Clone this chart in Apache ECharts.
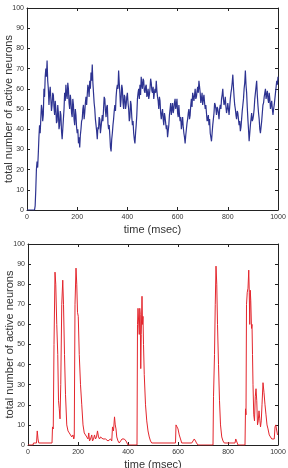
<!DOCTYPE html>
<html>
<head>
<meta charset="utf-8">
<style>html,body{margin:0;padding:0;background:#fff;}#c{width:288px;height:468px;}</style>
<script src="https://cdn.jsdelivr.net/npm/echarts@6/dist/echarts.min.js"></script>
</head>
<body>
<div id="c"></div>
<script>
// Top panel: sampled every 2.5 ms
var topStep = 2.5;
var topValues = [
0,0,0,0,0,0,0,0,0,0,0,0,0,2,10,20,24,21,28,36,
42,38,45,52,50,44,47,60,56,66,70,66,74,64,60,52,58,61,55,49,
52,58,57,51,47,54,50,43,44,52,48,40,42,49,47,39,35,40,45,50,
58,54,62,57,55,63,60,53,50,57,54,48,46,55,52,45,42,50,47,41,
38,40,33,36,31,37,40,44,45,50,52,45,48,53,56,52,57,62,60,56,
64,60,68,64,72,63,58,53,50,45,42,39,35,41,40,46,45,38,41,44,
47,44,50,56,55,49,46,51,52,43,40,42,37,31,29,35,38,42,45,49,
52,49,56,60,62,60,69,63,58,51,55,62,60,53,50,57,56,50,52,56,
58,53,50,44,46,54,52,46,42,44,38,35,33,38,42,47,55,58,60,55,
62,57,66,62,60,65,64,59,58,61,62,56,57,60,55,57,60,65,63,59,
58,61,55,58,60,58,64,59,56,54,50,56,54,48,45,48,50,45,42,48,
46,43,40,42,36,39,42,47,50,53,47,50,53,48,50,53,55,50,52,55,
48,46,52,47,44,46,40,43,46,41,38,36,33,37,40,43,45,48,50,45,
47,52,55,51,58,56,54,57,60,55,56,59,61,58,64,61,58,53,55,58,
52,55,57,53,50,52,48,44,45,47,42,45,38,36,34,38,42,45,48,53,
52,50,47,51,50,48,45,50,52,50,55,57,60,55,52,53,56,51,48,50,
53,50,47,51,55,58,60,63,67,61,56,52,50,47,45,49,48,45,42,44,
39,41,45,49,52,55,60,63,69,62,58,51,45,40,34,38,42,45,48,44,
45,47,50,55,58,61,64,57,52,48,45,40,38,41,44,48,52,53,56,58,
60,55,57,59,55,53,58,55,50,52,54,50,47,50,52,55,58,61,64,62,
66];
// Bottom panel
var botTimes = [0,20,22,34,37,40,43,96,98,101,104,108,111,115,119,122,125,128,131,135,139,142,146,150,155,160,165,170,175,180,183,185,188,192,195,198,201,205,210,215,220,225,230,235,240,243,246,250,255,258,262,266,270,274,278,282,286,290,300,310,320,330,335,338,342,346,349,352,355,360,365,372,376,385,392,396,400,436,438,440,443,445,447,449,451,453,456,458,460,462,465,470,475,480,485,490,495,590,592,596,600,605,610,615,655,660,665,670,674,680,740,742,746,749,752,755,758,762,766,770,775,780,785,828,831,834,837,840,868,870,872,874,877,880,883,885,887,889,891,894,896,898,900,903,906,909,912,915,918,921,924,927,930,933,936,940,944,948,952,956,960,965,970,975,980,985,988,991,996,998,1000];
var botValues = [0,0,1,1,7,3,1,1,9,8,50,86,80,60,45,22,18,13,30,70,82,70,45,25,10,7,6,5,4,5,3,4,70,88,80,66,64,45,30,20,10,6,5,4,3,6,2,3,5,2,3,5,3,4,7,4,3,4,3,3,2,3,2,9,7,14,10,8,4,2,1,1,3,3,2,1,0,0,60,68,68,55,68,65,38,55,74,60,64,50,35,20,12,7,4,2,1,1,10,9,8,5,3,1,1,2,3,2,1,0,0,24,45,70,89,80,60,40,22,10,4,2,1,1,3,2,1,0,0,18,15,70,76,78,87,76,60,77,72,58,60,45,30,15,12,24,28,22,10,12,17,13,9,12,20,31,26,20,15,10,8,5,4,3,3,3,9,10,10,5,5];
var xTicks = [0,200,400,600,800,1000];
var yTicks = [0,10,20,30,40,50,60,70,80,90,100];

var topData = topValues.map(function(v,i){return [i*topStep, v];});
var botData = botValues.map(function(v,i){return [botTimes[i], v];});

var FONT = 'Liberation Sans, Arial, Helvetica, sans-serif';
var lineCol = '#222';
function xAx(grid, pos, show) {
  return {
    type:'value', gridIndex:grid, position:pos, min:xTicks[0], max:xTicks[xTicks.length-1], interval:xTicks[1]-xTicks[0],
    name: show ? 'time (msec)' : '', nameLocation:'middle', nameGap:14, nameMoveOverlap:false,
    nameTextStyle:{fontFamily:FONT, fontSize:11, color:'#333'},
    axisLine:{show:true, onZero:false, lineStyle:{color:lineCol, width:1}},
    axisTick:{show:true, inside:true, length:3, lineStyle:{color:lineCol, width:1}},
    axisLabel:{show:show, fontFamily:FONT, fontSize:7, color:'#333', margin:4,
      formatter:function(v){return String(v);}},
    splitLine:{show:false}
  };
}
function yAx(grid, pos, show) {
  return {
    type:'value', gridIndex:grid, position:pos, min:yTicks[0], max:yTicks[yTicks.length-1], interval:yTicks[1]-yTicks[0],
    name: show ? 'total number of active neurons' : '', nameLocation:'middle', nameGap:13, nameMoveOverlap:false,
    nameTextStyle:{fontFamily:FONT, fontSize:11, color:'#333'},
    axisLine:{show:true, onZero:false, lineStyle:{color:lineCol, width:1}},
    axisTick:{show:true, inside:true, length:3, lineStyle:{color:lineCol, width:1}},
    axisLabel:{show:show, fontFamily:FONT, fontSize:7, color:'#333', margin:3,
      formatter:function(v){return String(v);}},
    splitLine:{show:false}
  };
}
var chart = echarts.init(document.getElementById('c'), null, {renderer:'canvas'});
chart.setOption({
  animation:false,
  backgroundColor:'#fff',
  grid:[
    {left:27, top:8, width:251, height:202, outerBoundsMode:'none'},
    {left:28, top:244, width:250, height:201, outerBoundsMode:'none'}
  ],
  xAxis:[xAx(0,'bottom',true), xAx(0,'top',false), xAx(1,'bottom',true), xAx(1,'top',false)],
  yAxis:[yAx(0,'left',true), yAx(0,'right',false), yAx(1,'left',true), yAx(1,'right',false)],
  series:[
    {type:'line', xAxisIndex:0, yAxisIndex:0, data:topData, showSymbol:false, symbol:'none',
     lineStyle:{color:'#2d3391', width:1.2}, clip:true},
    {type:'line', xAxisIndex:2, yAxisIndex:2, data:botData, showSymbol:false, symbol:'none',
     lineStyle:{color:'#e3262d', width:1}, clip:true}
  ]
});
</script>
</body>
</html>
